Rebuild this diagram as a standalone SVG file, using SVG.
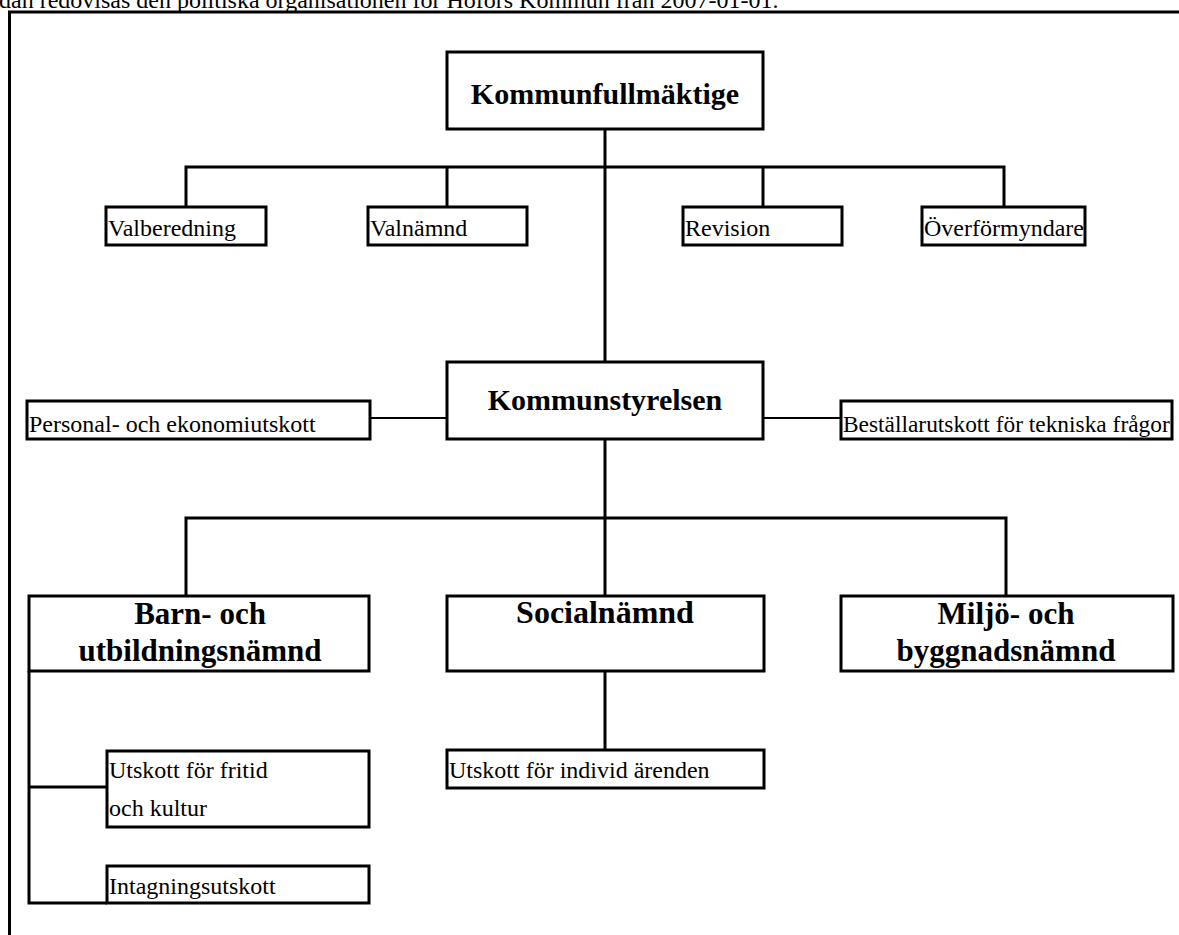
<svg xmlns="http://www.w3.org/2000/svg" width="1179" height="935" viewBox="0 0 1179 935">
<style>
.box{fill:#fff;stroke:#000;stroke-width:3}
.ln{stroke:#000;stroke-width:3;fill:none}
.thin{stroke:#000;stroke-width:2;fill:none}
.big{font-family:"Liberation Serif","Times New Roman",serif;font-weight:bold;fill:#000;text-anchor:middle}
.sm{font-family:"Liberation Serif","Times New Roman",serif;font-size:24px;fill:#000}
</style>
<rect x="0" y="0" width="1179" height="935" fill="#fff"/>
<text x="-1" y="8" font-family="'Liberation Serif','Times New Roman',serif" font-size="24" fill="#000">dan redovisas den politiska organisationen för Hofors Kommun från 2007-01-01.</text>
<g id="frame">
<line class="ln" x1="8" y1="12" x2="1179" y2="12"/>
<line class="ln" x1="9.5" y1="11" x2="9.5" y2="935"/>
</g>
<g id="connectors">
<line class="ln" x1="605" y1="129" x2="605" y2="362"/>
<polyline class="ln" points="186,207 186,167 1004,167 1004,207"/>
<line class="ln" x1="447" y1="167" x2="447" y2="207"/>
<line class="ln" x1="763" y1="167" x2="763" y2="207"/>
<line class="thin" x1="370" y1="418" x2="447" y2="418"/>
<line class="thin" x1="763" y1="418" x2="841" y2="418"/>
<line class="ln" x1="605" y1="439" x2="605" y2="596"/>
<polyline class="ln" points="186,596 186,518 1006,518 1006,596"/>
<line class="ln" x1="605" y1="671" x2="605" y2="750"/>
<polyline class="ln" points="29,671 29,903 107,903"/>
<line class="ln" x1="29" y1="787" x2="107" y2="787"/>
</g>
<g id="kommunfullmaktige">
<rect class="box" x="447" y="52" width="316" height="77"/>
<text class="big" x="605" y="104" font-size="30">Kommunfullmäktige</text>
</g>
<g id="valberedning">
<rect class="box" x="106" y="207" width="160" height="38"/>
<text class="sm" x="108" y="236">Valberedning</text>
</g>
<g id="valnamnd">
<rect class="box" x="368" y="207" width="159" height="38"/>
<text class="sm" x="370" y="236">Valnämnd</text>
</g>
<g id="revision">
<rect class="box" x="683" y="207" width="159" height="38"/>
<text class="sm" x="685" y="236">Revision</text>
</g>
<g id="overformyndare">
<rect class="box" x="922" y="207" width="163" height="38"/>
<text class="sm" x="924" y="236">Överförmyndare</text>
</g>
<g id="kommunstyrelsen">
<rect class="box" x="447" y="362" width="316" height="77"/>
<text class="big" x="605" y="410" font-size="30">Kommunstyrelsen</text>
</g>
<g id="personal">
<rect class="box" x="27" y="401" width="343" height="38"/>
<text class="sm" x="29" y="432">Personal- och ekonomiutskott</text>
</g>
<g id="bestallar">
<rect class="box" x="841" y="401" width="331" height="38"/>
<text class="sm" x="843" y="432" font-size="23.4" style="font-size:23.4px">Beställarutskott för tekniska frågor</text>
</g>
<g id="barn">
<rect class="box" x="29" y="596" width="340" height="75"/>
<text class="big" x="200" y="624" font-size="31">Barn- och</text>
<text class="big" x="200" y="661" font-size="31">utbildningsnämnd</text>
</g>
<g id="social">
<rect class="box" x="447" y="596" width="317" height="75"/>
<text class="big" x="605" y="623" font-size="32">Socialnämnd</text>
</g>
<g id="miljo">
<rect class="box" x="841" y="596" width="332" height="75"/>
<text class="big" x="1006" y="624" font-size="31">Miljö- och</text>
<text class="big" x="1006" y="661" font-size="31">byggnadsnämnd</text>
</g>
<g id="fritid">
<rect class="box" x="107" y="751" width="262" height="76"/>
<text class="sm" x="109" y="778">Utskott för fritid</text>
<text class="sm" x="109" y="816">och kultur</text>
</g>
<g id="intagning">
<rect class="box" x="107" y="866" width="262" height="37"/>
<text class="sm" x="109" y="894">Intagningsutskott</text>
</g>
<g id="individ">
<rect class="box" x="447" y="750" width="317" height="38"/>
<text class="sm" x="449" y="778">Utskott för individ ärenden</text>
</g>
</svg>
